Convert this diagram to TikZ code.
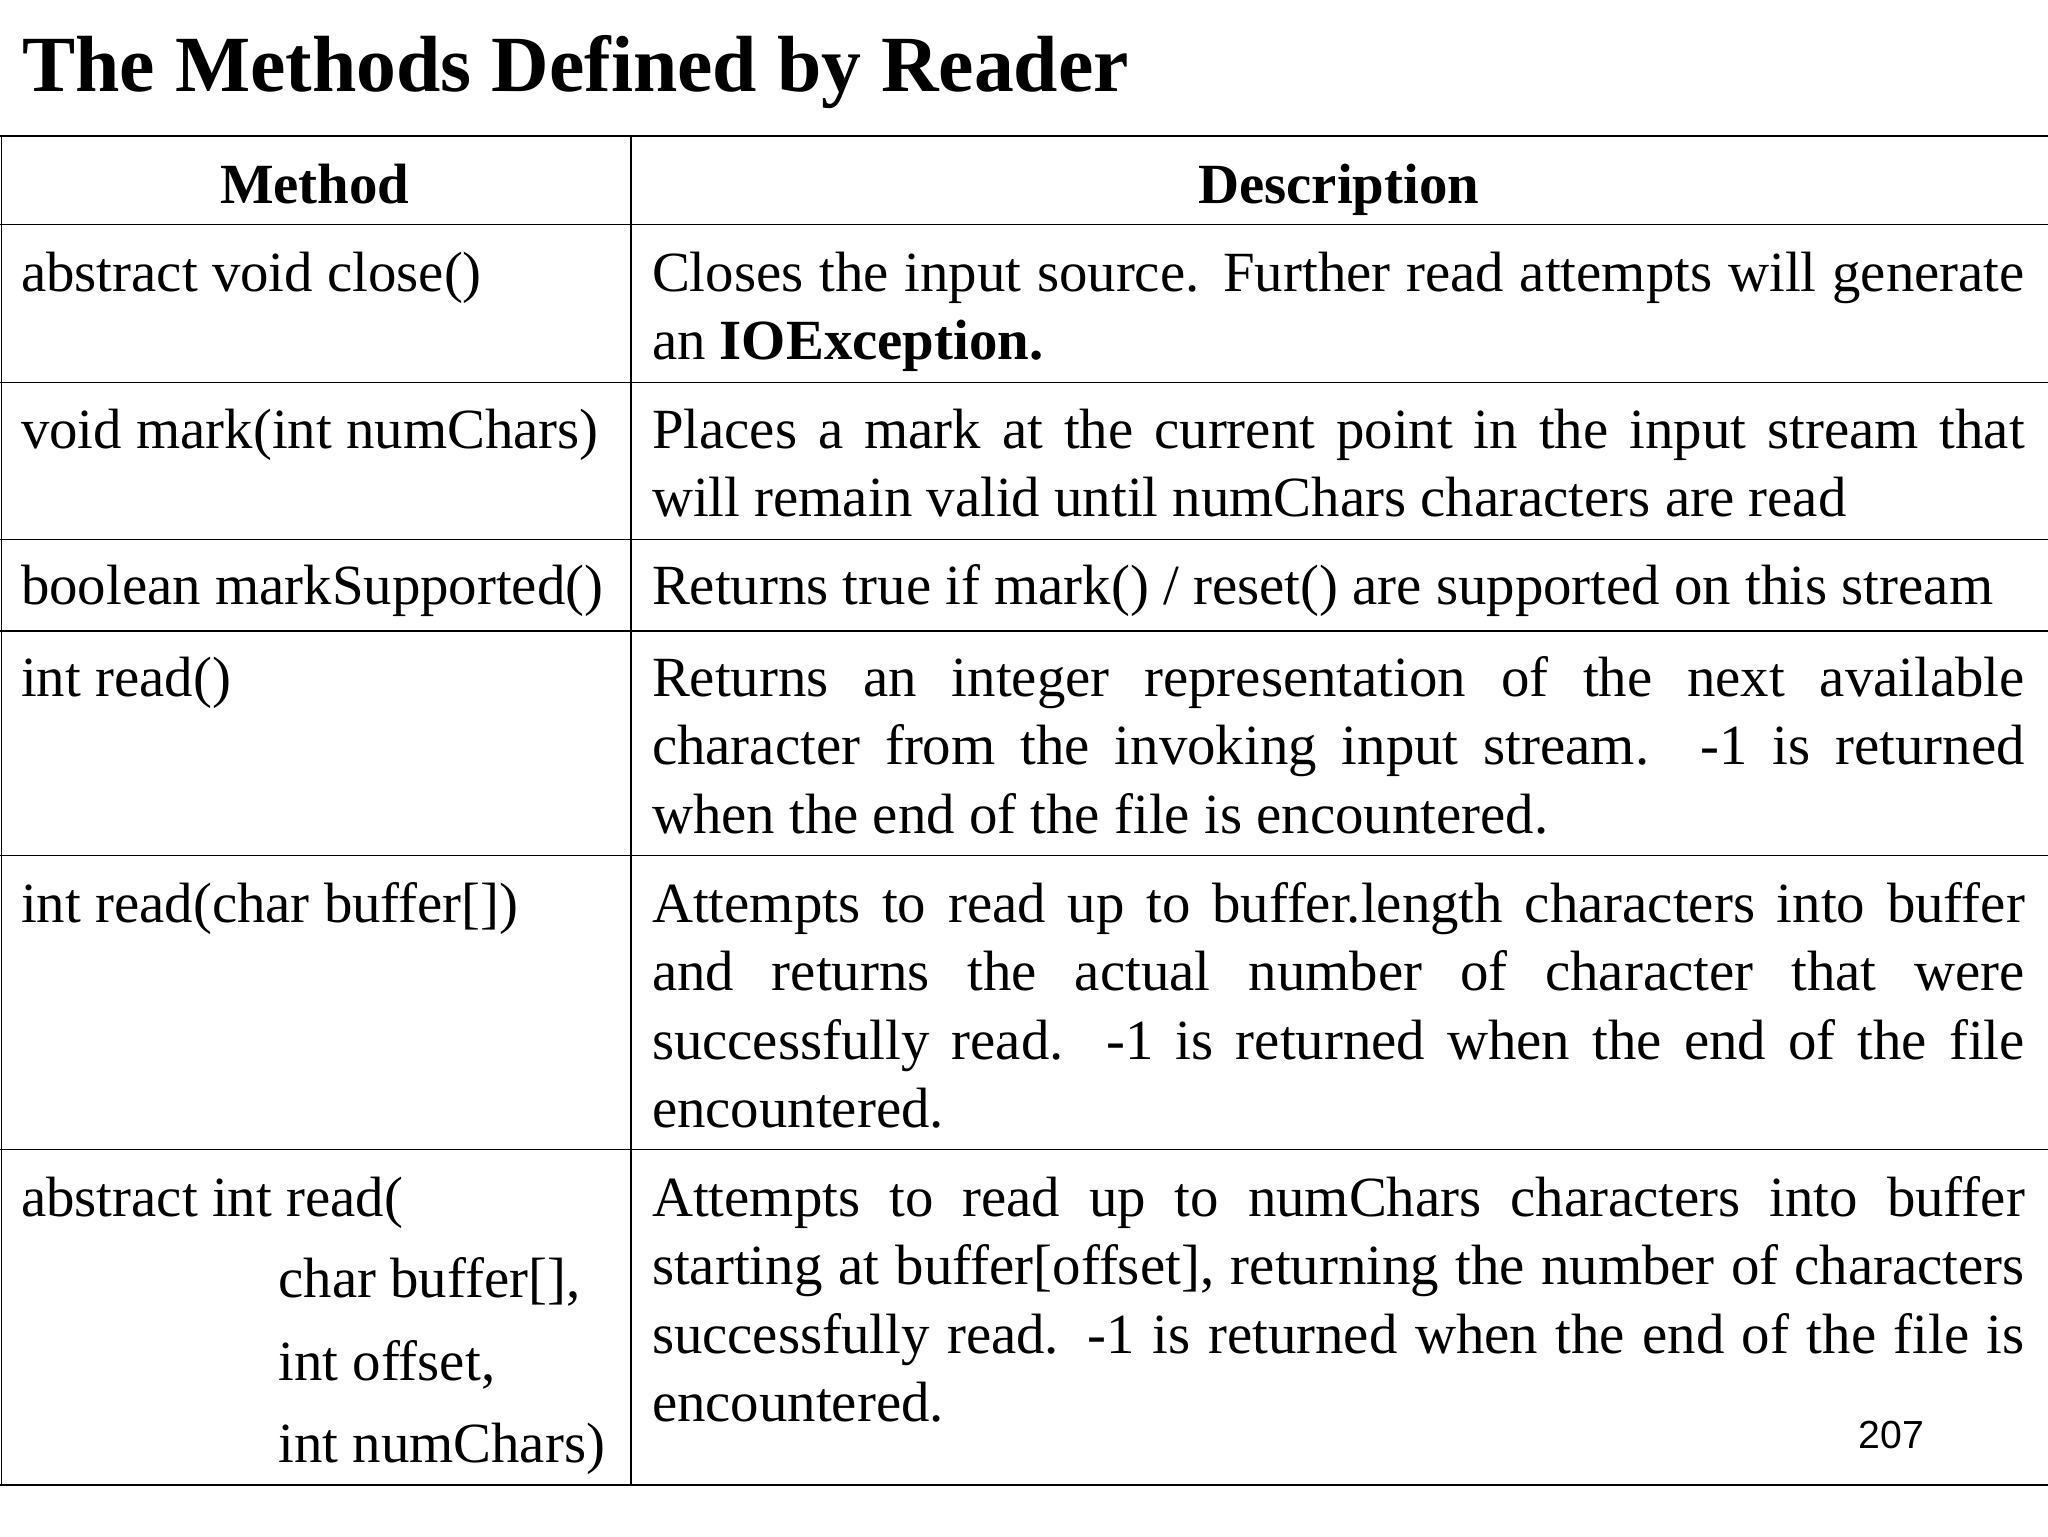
\documentclass[tikz,border=0pt]{standalone}
\usepackage{fontspec}
\setmainfont{Liberation Serif}
\setsansfont{Liberation Sans}
\newcommand{\jl}[1]{\makebox[1051pt][s]{#1}}
\begin{document}
\begin{tikzpicture}[x=1pt,y=-1pt,
  cell/.style={anchor=base west,inner sep=0pt,font=\fontsize{43.5}{52.5}\selectfont},
  rule/.style={line width=1.2pt}]
\useasboundingbox (0,0) rectangle (1568,1176);
\node[anchor=base west,inner sep=0pt,font=\fontsize{61}{70}\selectfont\bfseries] (title) at (17,70) {The Methods Defined by Reader};
% table lines
\draw[line width=2pt] (0,104) -- (1568,104);
\draw[line width=2pt] (0,1137) -- (1568,1137);
\foreach \y in {172,293,413,483,655,880} \draw[rule] (0,\y) -- (1568,\y);
\draw[rule] (483,104) -- (483,1137);
\draw[rule] (1,104) -- (1,1137);
% header
\node[cell,anchor=base,font=\fontsize{43.5}{52.5}\selectfont\bfseries] (h1) at (241,156) {Method};
\node[cell,anchor=base,font=\fontsize{43.5}{52.5}\selectfont\bfseries] (h2) at (1025,156) {Description};
% rows
\node[cell] (m1) at (16,223) {abstract void close()};
\node[cell] (d1a) at (499,223) {\jl{Closes the input source. Further read attempts will generate}};
\node[cell] (d1b) at (499,275.5) {an \textbf{IOException.}};
\node[cell] (m2) at (16,343) {void mark(int numChars)};
\node[cell] (d2a) at (499,343) {\jl{Places a mark at the current point in the input stream that}};
\node[cell] (d2b) at (499,395.5) {will remain valid until numChars characters are read};
\node[cell] (m3) at (16,463) {boolean markSupported()};
\node[cell] (d3) at (499,463) {Returns true if mark() / reset() are supported on this stream};
\node[cell] (m4) at (16,533) {int read()};
\node[cell] (d4a) at (499,533) {\jl{Returns an integer representation of the next available}};
\node[cell] (d4b) at (499,585.5) {\jl{character from the invoking input stream. -1 is returned}};
\node[cell] (d4c) at (499,638) {when the end of the file is encountered.};
\node[cell] (m5) at (16,706) {int read(char buffer[])};
\node[cell] (d5a) at (499,706) {\jl{Attempts to read up to buffer.length characters into buffer}};
\node[cell] (d5b) at (499,758.5) {\jl{and returns the actual number of character that were}};
\node[cell] (d5c) at (499,811) {\jl{successfully read. -1 is returned when the end of the file}};
\node[cell] (d5d) at (499,863.5) {encountered.};
\node[cell] (m6) at (16,931) {abstract int read(};
\node[cell] (m6b) at (213,993) {char buffer[],};
\node[cell] (m6c) at (213,1057) {int offset,};
\node[cell] (m6d) at (213,1120) {int numChars)};
\node[cell] (d6a) at (499,931) {\jl{Attempts to read up to numChars characters into buffer}};
\node[cell] (d6b) at (499,983.5) {\jl{starting at buffer[offset], returning the number of characters}};
\node[cell] (d6c) at (499,1036) {\jl{successfully read. -1 is returned when the end of the file is}};
\node[cell] (d6d) at (499,1088.5) {encountered.};
\node[anchor=base,inner sep=0pt,font=\sffamily\fontsize{30}{30}\selectfont] (pg) at (1448,1109) {207};
\end{tikzpicture}
\end{document}
